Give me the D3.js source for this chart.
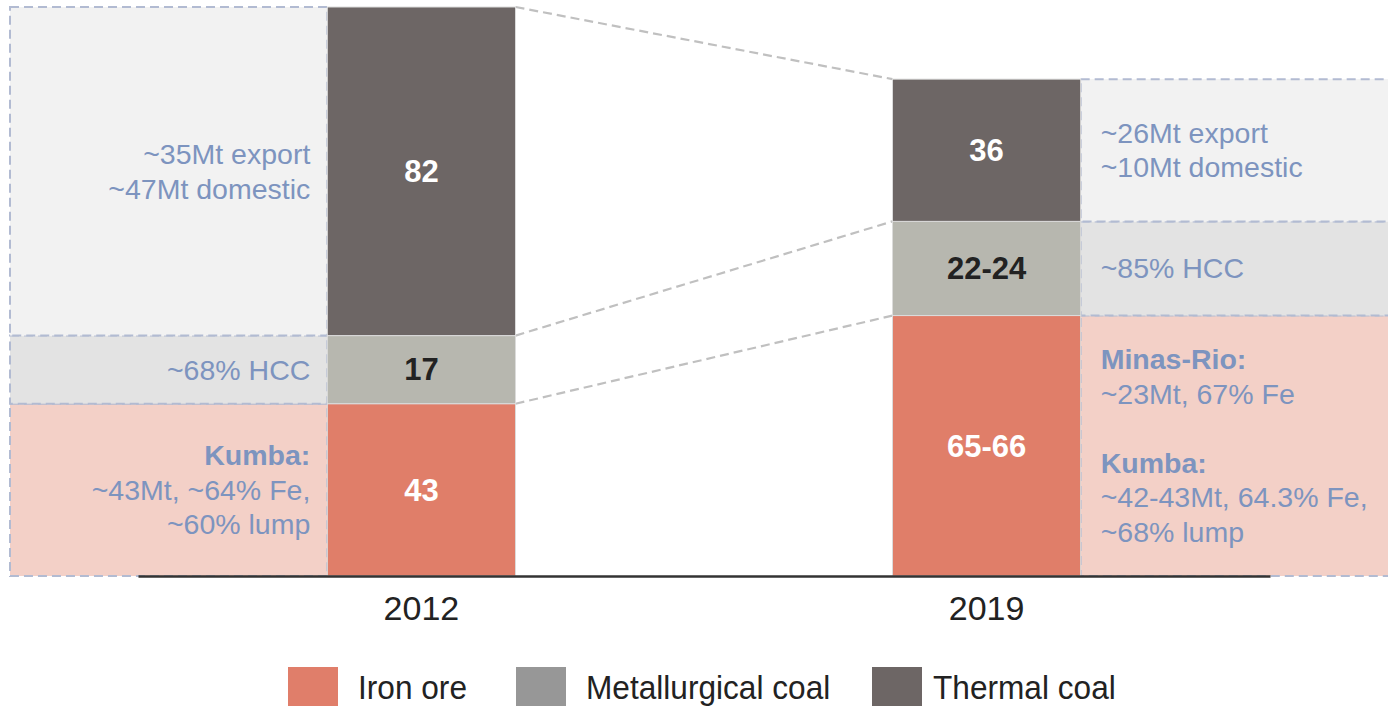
<!DOCTYPE html>
<html>
<head>
<meta charset="utf-8">
<script src="https://cdn.jsdelivr.net/npm/d3@7"></script>
<style>
  body { margin: 0; background: #fff; }
  svg { display: block; font-family: "Liberation Sans", Arial, sans-serif; }
</style>
</head>
<body>
<svg id="chart" width="1388" height="707"></svg>
<script>
// données
const years = ["2012", "2019"];
const categories = ["Iron ore", "Metallurgical coal", "Thermal coal"];
const ironOre = [43, 65];
const metCoal = [17, 23.5];
const thermalCoal = [82, 35.5];

const ironLabels = ["43", "65-66"];
const metLabels = ["17", "22-24"];
const thermalLabels = ["82", "36"];

// notes : [texte, gras]
const notes2012 = [
    [["Kumba:", true], ["~43Mt, ~64% Fe,", false], ["~60% lump", false]],
    [["~68% HCC", false]],
    [["~35Mt export", false], ["~47Mt domestic", false]]
];
const notes2019 = [
    [["Minas-Rio:", true], ["~23Mt, 67% Fe", false], ["", false],
     ["Kumba:", true], ["~42-43Mt, 64.3% Fe,", false], ["~68% lump", false]],
    [["~85% HCC", false]],
    [["~26Mt export", false], ["~10Mt domestic", false]]
];

const barColors = ["#e07e69", "#b7b7af", "#6d6665"];
const legendColors = ["#e07e6a", "#979797", "#6d6665"];
const panelColors = ["#f3d0c7", "#e3e3e3", "#f2f2f2"];
const labelColors = ["#fff", "#222", "#fff"];

// table pour d3.stack
const keys = ["iron", "met", "thermal"];
const table = years.map((y, i) => ({
    year: y, iron: ironOre[i], met: metCoal[i], thermal: thermalCoal[i]
}));
const labels = [ironLabels, metLabels, thermalLabels];
const notes = [notes2012, notes2019];

const series = d3.stack().keys(keys)(table);
const totals = table.map(d => d.iron + d.met + d.thermal);

const svg = d3.select("#chart");

const x = d3.scaleBand()
    .domain(years)
    .range([138, 1270])
    .paddingInner(0.667)
    .paddingOuter(0.335);
const bw = x.bandwidth();

const y = d3.scaleLinear()
    .domain([0, d3.max(totals)])
    .range([576, 7]);

// panneaux d'annotation (à gauche pour 2012, à droite pour 2019)
const panelX = yr => yr === "2012" ? [10, x(yr)] : [x(yr) + bw, 1400];

const panels = svg.append("g");
series.forEach((s, k) => {
    s.forEach((d, i) => {
        const [x0, x1] = panelX(years[i]);
        panels.append("rect")
            .attr("x", x0)
            .attr("y", y(d[1]))
            .attr("width", x1 - x0)
            .attr("height", y(d[0]) - y(d[1]))
            .attr("fill", panelColors[k])
            .attr("stroke", "#b2bbd2")
            .attr("stroke-width", 2)
            .attr("stroke-dasharray", "9,5");
    });
});

// lignes de liaison entre les barres
svg.append("g")
    .selectAll("line")
    .data(series)
    .join("line")
    .attr("x1", x(years[0]) + bw)
    .attr("y1", d => y(d[0][1]))
    .attr("x2", x(years[1]))
    .attr("y2", d => y(d[1][1]))
    .attr("stroke", "#c0c0c0")
    .attr("stroke-width", 2.2)
    .attr("stroke-dasharray", "9,5");

// barres empilées
svg.append("g")
    .selectAll("g")
    .data(series)
    .join("g")
    .attr("fill", (d, k) => barColors[k])
    .selectAll("rect")
    .data(d => d)
    .join("rect")
    .attr("x", d => x(d.data.year))
    .attr("y", d => y(d[1]))
    .attr("width", bw)
    .attr("height", d => y(d[0]) - y(d[1]))
    .attr("stroke", "#dcdcdc")
    .attr("stroke-width", 1);

// valeurs dans les barres
series.forEach((s, k) => {
    svg.append("g")
        .selectAll("text")
        .data(s)
        .join("text")
        .attr("x", d => x(d.data.year) + bw / 2)
        .attr("y", d => (y(d[0]) + y(d[1])) / 2)
        .attr("dy", "0.35em")
        .attr("text-anchor", "middle")
        .style("font-size", "31px")
        .style("font-weight", "bold")
        .attr("fill", labelColors[k])
        .text((d, i) => labels[k][i]);
});

// notes
const lineH = 34.5;
series.forEach((s, k) => {
    s.forEach((d, i) => {
        const lines = notes[i][k];
        const mid = (y(d[0]) + y(d[1])) / 2;
        const left = i === 0;
        const tx = left ? x(years[i]) - 17 : x(years[i]) + bw + 20;
        lines.forEach((ln, j) => {
            svg.append("text")
                .attr("x", tx)
                .attr("y", mid + (j - (lines.length - 1) / 2) * lineH)
                .attr("dy", "0.35em")
                .attr("text-anchor", left ? "end" : "start")
                .style("font-size", "28.5px")
                .style("font-weight", ln[1] ? "bold" : "normal")
                .attr("fill", "#7d94bf")
                .text(ln[0]);
        });
    });
});

// axe des x
const axis = svg.append("g")
    .attr("transform", "translate(0,576)")
    .call(d3.axisBottom(x).tickSize(0).tickSizeOuter(0).tickPadding(20));
axis.select(".domain").attr("stroke", "#333").attr("stroke-width", 2.5);
axis.selectAll("text")
    .style("font-size", "34px")
    .style("font-family", "'Liberation Sans', Arial, sans-serif")
    .attr("fill", "#222");

// légende
const legendX = [288, 516, 872];
const legendTextX = [70, 70, 61];
const legend = svg.append("g")
    .selectAll("g")
    .data(categories)
    .join("g")
    .attr("transform", (d, i) => `translate(${legendX[i]},667)`);

legend.append("rect")
    .attr("width", 50)
    .attr("height", 39)
    .attr("fill", (d, i) => legendColors[i]);

legend.append("text")
    .attr("transform", (d, i) => `translate(${legendTextX[i]},32) scale(0.93,1)`)
    .style("font-size", "34px")
    .attr("fill", "#222")
    .text(d => d);
</script>
</body>
</html>
